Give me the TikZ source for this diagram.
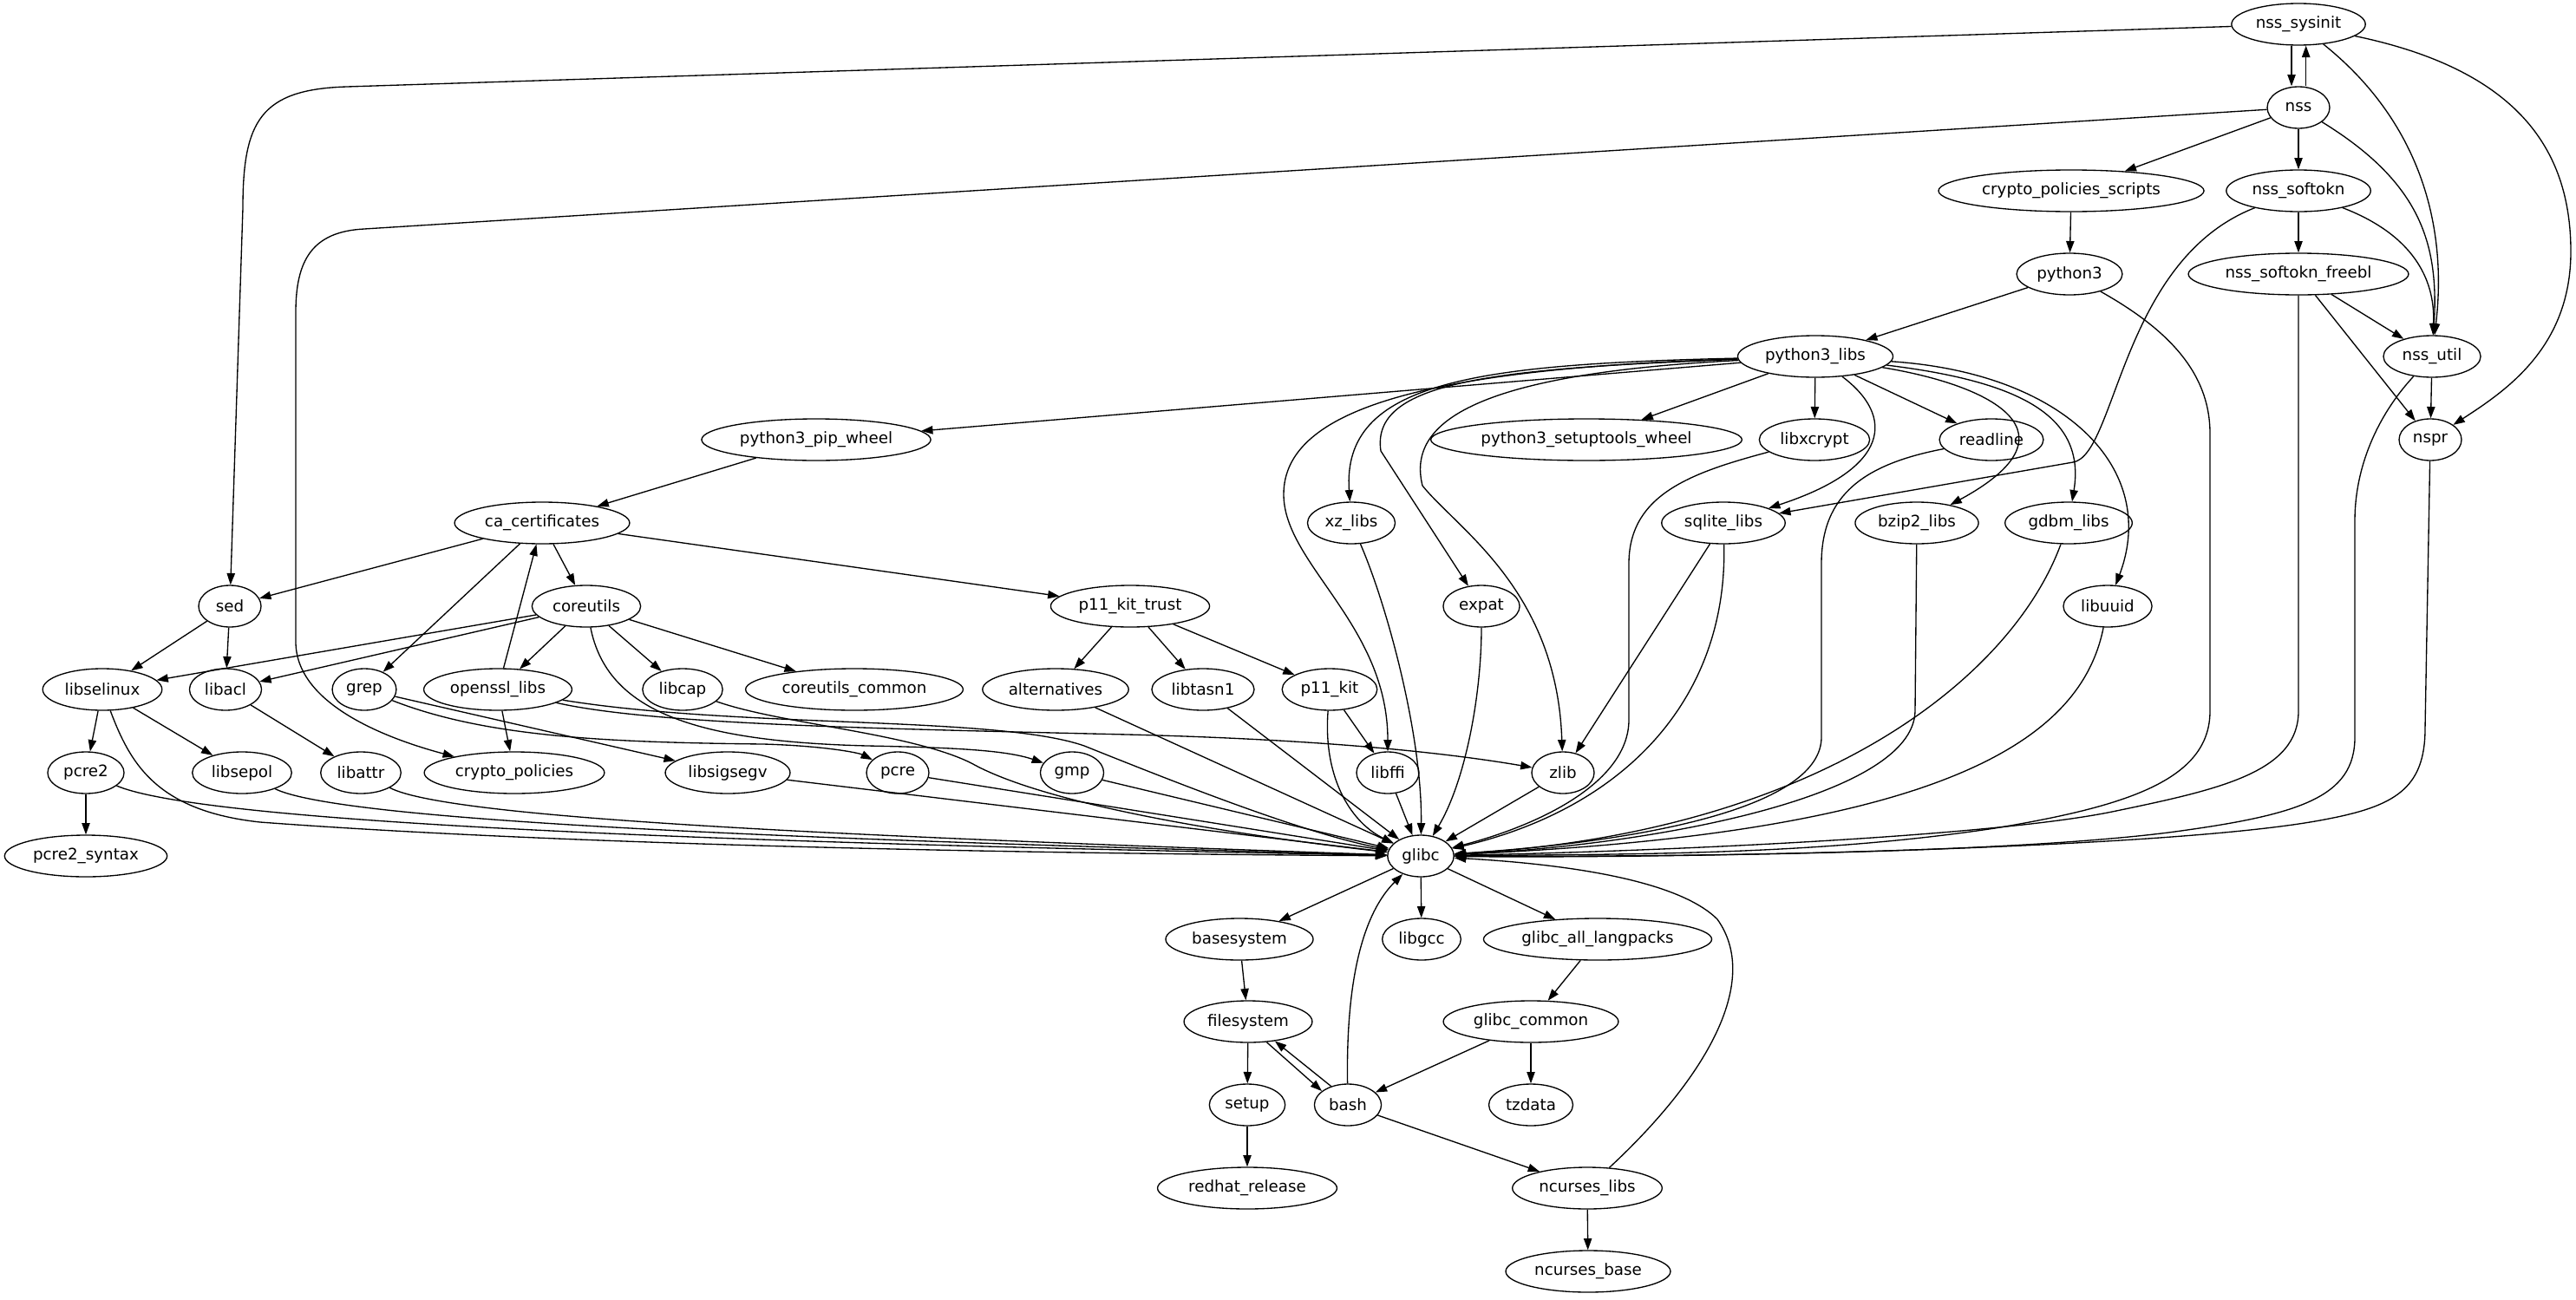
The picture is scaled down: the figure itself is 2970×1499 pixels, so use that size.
\documentclass[tikz,border=0pt]{standalone}
\usepackage{fontspec}
\setmainfont{DejaVu Sans}
\usetikzlibrary{shapes.geometric,arrows.meta}

\begin{document}
\begin{tikzpicture}[x=0.75pt,y=-0.75pt,
    pkg/.style={ellipse, draw, line width=1pt, minimum width=54pt, minimum height=36pt, inner xsep=4pt, inner ysep=0pt, font=\fontsize{13.7}{16}\selectfont},
    dep/.style={-{Triangle[length=10pt,width=7pt]}, line width=1pt}]
    \useasboundingbox (0,0) rectangle (2970,1499);

    % Packages, top to bottom
    \node[pkg] (nss_sysinit) at (2650,28) {nss\_sysinit};
    \node[pkg] (nss) at (2650,124) {nss};
    \node[pkg] (crypto_policies_scripts) at (2388,220) {crypto\_policies\_scripts};
    \node[pkg] (nss_softokn) at (2650,220) {nss\_softokn};
    \node[pkg] (python3) at (2386,316) {python3};
    \node[pkg] (nss_softokn_freebl) at (2650,316) {nss\_softokn\_freebl};
    \node[pkg] (python3_libs) at (2093,411) {python3\_libs};
    \node[pkg] (nss_util) at (2804,411) {nss\_util};
    \node[pkg] (python3_pip_wheel) at (941,507) {python3\_pip\_wheel};
    \node[pkg] (python3_setuptools_wheel) at (1829,507) {python3\_setuptools\_wheel};
    \node[pkg] (libxcrypt) at (2092,507) {libxcrypt};
    \node[pkg] (readline) at (2296,507) {readline};
    \node[pkg] (nspr) at (2802,507) {nspr};
    \node[pkg] (ca_certificates) at (625,603) {ca\_certificates};
    \node[pkg] (xz_libs) at (1558,603) {xz\_libs};
    \node[pkg] (sqlite_libs) at (1987,603) {sqlite\_libs};
    \node[pkg] (bzip2_libs) at (2210,603) {bzip2\_libs};
    \node[pkg] (gdbm_libs) at (2385,603) {gdbm\_libs};
    \node[pkg] (sed) at (265,699) {sed};
    \node[pkg] (coreutils) at (676,699) {coreutils};
    \node[pkg] (p11_kit_trust) at (1303,699) {p11\_kit\_trust};
    \node[pkg] (expat) at (1708,699) {expat};
    \node[pkg] (libuuid) at (2430,699) {libuuid};
    \node[pkg] (libselinux) at (118,795) {libselinux};
    \node[pkg] (libacl) at (260,795) {libacl};
    \node[pkg] (grep) at (420,795) {grep};
    \node[pkg] (openssl_libs) at (574,795) {openssl\_libs};
    \node[pkg] (libcap) at (787,795) {libcap};
    \node[pkg] (coreutils_common) at (985,795) {coreutils\_common};
    \node[pkg] (alternatives) at (1217,795) {alternatives};
    \node[pkg] (libtasn1) at (1387,795) {libtasn1};
    \node[pkg] (p11_kit) at (1533,795) {p11\_kit};
    \node[pkg] (pcre2) at (99,891) {pcre2};
    \node[pkg] (libsepol) at (279,891) {libsepol};
    \node[pkg] (libattr) at (416,891) {libattr};
    \node[pkg] (crypto_policies) at (593,891) {crypto\_policies};
    \node[pkg] (libsigsegv) at (839,891) {libsigsegv};
    \node[pkg] (pcre) at (1035,891) {pcre};
    \node[pkg] (gmp) at (1236,891) {gmp};
    \node[pkg] (libffi) at (1600,891) {libffi};
    \node[pkg] (zlib) at (1802,891) {zlib};
    \node[pkg] (pcre2_syntax) at (99,987) {pcre2\_syntax};
    \node[pkg] (glibc) at (1638,987) {glibc};
    \node[pkg] (basesystem) at (1429,1083) {basesystem};
    \node[pkg] (libgcc) at (1639,1083) {libgcc};
    \node[pkg] (glibc_all_langpacks) at (1842,1083) {glibc\_all\_langpacks};
    \node[pkg] (filesystem) at (1439,1178) {filesystem};
    \node[pkg] (glibc_common) at (1765,1178) {glibc\_common};
    \node[pkg] (setup) at (1438,1274) {setup};
    \node[pkg] (bash) at (1554,1274) {bash};
    \node[pkg] (tzdata) at (1765,1274) {tzdata};
    \node[pkg] (redhat_release) at (1438,1370) {redhat\_release};
    \node[pkg] (ncurses_libs) at (1830,1370) {ncurses\_libs};
    \node[pkg] (ncurses_base) at (1831,1466) {ncurses\_base};

    % nss group
    \draw[dep] ([xshift=-6pt]nss_sysinit.south) -- ([xshift=-6pt]nss.north);
    \draw[dep] ([xshift=6.5pt]nss.north) -- ([xshift=6.5pt]nss_sysinit.south);
    \draw[dep] (nss_sysinit) -- (400,100) .. controls (300,103) and (280,140) .. (280,240) -- (sed);
    \draw[dep] (nss_sysinit) .. controls (2790,140) and (2822,260) .. (nss_util);
    \draw[dep] (nss_sysinit) .. controls (2900,80) and (2964,170) .. (2964,290) .. controls (2964,400) and (2890,450) .. (nspr);
    \draw[dep] (nss) -- (420,264) .. controls (360,267) and (341,300) .. (341,360) -- (341,740) .. controls (341,810) and (440,850) .. (crypto_policies);
    \draw[dep] (nss) -- (crypto_policies_scripts);
    \draw[dep] (nss) -- (nss_softokn);
    \draw[dep] (nss) .. controls (2790,210) and (2812,280) .. (nss_util);
    \draw[dep] (nss_softokn) .. controls (2780,270) and (2808,320) .. (nss_util);
    \draw[dep] (nss_softokn) -- (nss_softokn_freebl);
    \draw[dep] (nss_softokn) .. controls (2445,300) and (2440,525) .. (2390,533) -- (sqlite_libs);
    \draw[dep] (crypto_policies_scripts) -- (python3);
    \draw[dep] (nss_softokn_freebl) -- (nss_util);
    \draw[dep] (nss_softokn_freebl) -- (nspr);
    \draw[dep] (nss_util) -- (nspr);
    \draw[dep] (python3) -- (python3_libs);

    % long ones down into glibc
    \draw[dep] (python3) .. controls (2500,380) and (2548,430) .. (2548,500) -- (2548,820) .. controls (2548,900) and (2450,930) .. (2300,955) .. controls (2100,985) and (1900,985) .. (glibc);
    \draw[dep] (nss_softokn_freebl) -- (2650,820) .. controls (2650,890) and (2560,910) .. (2440,935) .. controls (2300,965) and (1900,982) .. (glibc);
    \draw[dep] (nss_util) .. controls (2740,480) and (2715,540) .. (2715,600) -- (2715,850) .. controls (2715,920) and (2650,940) .. (2500,960) .. controls (2300,985) and (1900,988) .. (glibc);
    \draw[dep] (nspr) -- (2796,840) .. controls (2796,910) and (2760,930) .. (2680,945) .. controls (2500,980) and (1900,990) .. (glibc);

    % python3_libs
    \draw[dep] (python3_libs) -- (python3_pip_wheel);
    \draw[dep] (python3_libs) -- (python3_setuptools_wheel);
    \draw[dep] (python3_libs) -- (libxcrypt);
    \draw[dep] (python3_libs) -- (readline);
    \draw[dep] (python3_libs) .. controls (1700,420) and (1547,440) .. (xz_libs);
    \draw[dep] (python3_libs) .. controls (1720,425) and (1580,440) .. (1592,520) -- (expat);
    \draw[dep] (python3_libs) .. controls (1720,430) and (1620,480) .. (1640,560) .. controls (1680,610) and (1795,680) .. (zlib);
    \draw[dep] (python3_libs) .. controls (1650,425) and (1480,470) .. (1480,570) .. controls (1480,650) and (1600,720) .. (libffi);
    \draw[dep] (python3_libs) .. controls (2185,480) and (2180,540) .. (sqlite_libs);
    \draw[dep] (python3_libs) .. controls (2300,445) and (2400,500) .. (bzip2_libs);
    \draw[dep] (python3_libs) .. controls (2330,440) and (2405,480) .. (gdbm_libs);
    \draw[dep] (python3_libs) .. controls (2380,430) and (2490,540) .. (libuuid);

    \draw[dep] (libxcrypt) .. controls (1950,545) and (1878,570) .. (1878,650) -- (1878,830) .. controls (1878,900) and (1780,950) .. (glibc);
    \draw[dep] (readline) .. controls (2150,535) and (2100,570) .. (2100,650) -- (2100,850) .. controls (2100,930) and (1900,970) .. (glibc);
    \draw[dep] (xz_libs) .. controls (1600,700) and (1640,850) .. (glibc);
    \draw[dep] (expat) .. controls (1708,800) and (1690,900) .. (glibc);
    \draw[dep] (sqlite_libs) -- (zlib);
    \draw[dep] (sqlite_libs) .. controls (1992,800) and (1880,930) .. (glibc);
    \draw[dep] (bzip2_libs) -- (2208,820) .. controls (2206,920) and (1900,975) .. (glibc);
    \draw[dep] (gdbm_libs) .. controls (2320,780) and (2100,960) .. (glibc);
    \draw[dep] (libuuid) .. controls (2400,850) and (2250,960) .. (glibc);

    % ca_certificates and below
    \draw[dep] (python3_pip_wheel) -- (ca_certificates);
    \draw[dep] (ca_certificates) -- (sed);
    \draw[dep] (ca_certificates) -- (coreutils);
    \draw[dep] (ca_certificates) -- (grep);
    \draw[dep] (ca_certificates) -- (p11_kit_trust);
    \draw[dep] (openssl_libs) -- (ca_certificates);
    \draw[dep] (sed) -- (libselinux);
    \draw[dep] (sed) -- (libacl);
    \draw[dep] (coreutils) -- (libselinux);
    \draw[dep] (coreutils) -- (libacl);
    \draw[dep] (coreutils) -- (openssl_libs);
    \draw[dep] (coreutils) -- (libcap);
    \draw[dep] (coreutils) -- (coreutils_common);
    \draw[dep] (coreutils) .. controls (700,820) and (800,855) .. (1000,860) .. controls (1100,862) and (1160,865) .. (gmp);
    \draw[dep] (grep) -- (libsigsegv);
    \draw[dep] (grep) .. controls (560,850) and (700,856) .. (880,858) .. controls (950,860) and (990,868) .. (pcre);
    \draw[dep] (openssl_libs) -- (crypto_policies);
    \draw[dep] (openssl_libs) .. controls (750,835) and (1000,840) .. (1300,847) .. controls (1500,852) and (1650,865) .. (zlib);
    \draw[dep] (openssl_libs) .. controls (850,840) and (1150,825) .. (1250,860) .. controls (1350,900) and (1500,960) .. (glibc);
    \draw[dep] (libcap) .. controls (900,835) and (1050,845) .. (1120,880) .. controls (1200,925) and (1400,960) .. (glibc);
    \draw[dep] (libselinux) -- (pcre2);
    \draw[dep] (libselinux) -- (libsepol);
    \draw[dep] (libselinux) .. controls (150,880) and (180,935) .. (300,948) .. controls (700,978) and (1300,985) .. (glibc);
    \draw[dep] (libacl) -- (libattr);
    \draw[dep] (pcre2) -- (pcre2_syntax);
    \draw[dep] (pcre2) .. controls (250,955) and (1000,975) .. (glibc);
    \draw[dep] (libsepol) .. controls (400,950) and (1000,970) .. (glibc);
    \draw[dep] (libattr) .. controls (520,945) and (1000,965) .. (glibc);
    \draw[dep] (libsigsegv) -- (glibc);
    \draw[dep] (pcre) -- (glibc);
    \draw[dep] (gmp) -- (glibc);

    % p11_kit_trust
    \draw[dep] (p11_kit_trust) -- (alternatives);
    \draw[dep] (p11_kit_trust) -- (libtasn1);
    \draw[dep] (p11_kit_trust) -- (p11_kit);
    \draw[dep] (alternatives) -- (glibc);
    \draw[dep] (libtasn1) -- (glibc);
    \draw[dep] (p11_kit) -- (libffi);
    \draw[dep] (p11_kit) .. controls (1525,900) and (1560,950) .. (glibc);
    \draw[dep] (libffi) -- (glibc);
    \draw[dep] (zlib) -- (glibc);

    % glibc and below
    \draw[dep] (glibc) -- (basesystem);
    \draw[dep] (glibc) -- (libgcc);
    \draw[dep] (glibc) -- (glibc_all_langpacks);
    \draw[dep] (basesystem) -- (filesystem);
    \draw[dep] (glibc_all_langpacks) -- (glibc_common);
    \draw[dep] (filesystem) -- (setup);
    \draw[dep] (filesystem.-48) -- (bash.152);
    \draw[dep] (bash.132) -- (filesystem.-36);
    \draw[dep] (glibc_common) -- (bash);
    \draw[dep] (glibc_common) -- (tzdata);
    \draw[dep] (setup) -- (redhat_release);
    \draw[dep] (bash) -- (ncurses_libs);
    \draw[dep] (bash) .. controls (1552,1150) and (1565,1060) .. (glibc);
    \draw[dep] (ncurses_libs) .. controls (1970,1240) and (2030,1130) .. (1980,1060) .. controls (1930,1010) and (1780,995) .. (glibc);
    \draw[dep] (ncurses_libs) -- (ncurses_base);
\end{tikzpicture}
\end{document}
